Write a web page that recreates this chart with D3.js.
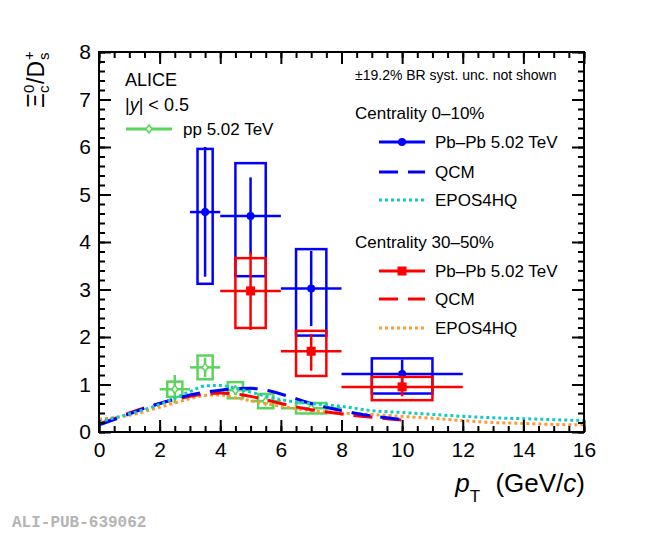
<!DOCTYPE html>
<html>
<head>
<meta charset="utf-8">
<title>Xi_c / Ds ratio</title>
<script src="https://cdn.jsdelivr.net/npm/d3@7"></script>
<style>
  body { margin: 0; background: #fff; }
</style>
</head>
<body>
<script>

// Pb-Pb 0-10%
var cent010X = [3.5, 5, 7, 10];
var cent010Lo = [3, 4, 6, 8];
var cent010Hi = [4, 6, 8, 12];
var cent010Y = [4.63, 4.55, 3.02, 1.22];
var cent010StatUp = [1.37, 0.81, 0.79, 0.30];
var cent010StatDn = [1.36, 0.81, 0.79, 0.30];
var cent010SystUp = [1.33, 1.11, 0.83, 0.33];
var cent010SystDn = [1.51, 1.27, 0.99, 0.41];
var cent010Box = [0.25, 0.5, 0.5, 1];

// Pb-Pb 30-50%
var cent3050X = [5, 7, 10];
var cent3050Lo = [4, 6, 8];
var cent3050Hi = [6, 8, 12];
var cent3050Y = [2.97, 1.70, 0.95];
var cent3050StatUp = [0.82, 0.36, 0.20];
var cent3050StatDn = [0.82, 0.41, 0.20];
var cent3050SystUp = [0.69, 0.43, 0.21];
var cent3050SystDn = [0.78, 0.52, 0.28];
var cent3050Box = [0.5, 0.5, 1];

// pp 5.02 TeV
var ppX = [2.5, 3.5, 4.5, 5.5, 7];
var ppLo = [2, 3, 4, 5, 6];
var ppHi = [3, 4, 5, 6, 8];
var ppY = [0.9, 1.36, 0.88, 0.65, 0.5];
var ppStat = [0.3, 0.2, 0.1, 0.08, 0.06];
var ppSyst = [0.16, 0.25, 0.17, 0.15, 0.11];
var ppBox = [0.25, 0.25, 0.25, 0.25, 0.5];

// model curves
var qcmX = [0, 0.5, 1, 1.5, 2, 2.5, 3, 3.5, 4, 4.5, 5, 5.5, 6, 6.5, 7, 7.5, 8, 8.5, 9, 9.5, 10];
var qcm010Y = [0.15, 0.26, 0.38, 0.5, 0.6, 0.7, 0.78, 0.84, 0.88, 0.91, 0.92, 0.88, 0.8, 0.7, 0.6, 0.52, 0.45, 0.39, 0.34, 0.3, 0.26];
var qcm3050Y = [0.17, 0.28, 0.4, 0.51, 0.6, 0.68, 0.75, 0.8, 0.82, 0.8, 0.75, 0.68, 0.6, 0.53, 0.47, 0.42, 0.38, 0.34, 0.31, 0.28, 0.25];

var eposX = [0, 1, 2, 3, 3.5, 4, 4.5, 5, 6, 7, 8, 9, 10, 11, 12, 13, 14, 15, 16];
var epos010Y = [0.22, 0.38, 0.58, 0.85, 0.97, 0.98, 0.92, 0.84, 0.68, 0.6, 0.54, 0.45, 0.41, 0.37, 0.33, 0.3, 0.28, 0.26, 0.24];
var epos3050Y = [0.27, 0.35, 0.52, 0.7, 0.77, 0.78, 0.72, 0.66, 0.54, 0.45, 0.4, 0.37, 0.33, 0.29, 0.24, 0.2, 0.18, 0.16, 0.15];

var xTicks = [0, 2, 4, 6, 8, 10, 12, 14, 16];
var yTicks = [0, 1, 2, 3, 4, 5, 6, 7, 8];

drawChart();

function drawChart(){

  var w = 650;
  var h = 533;
  var margin = {top: 52, right: 66, bottom: 101, left: 99};
  var gw = w - margin.left - margin.right;
  var gh = h - margin.top - margin.bottom;
  var font = "Liberation Sans, Arial, sans-serif";

  var blue = "#0000ff", red = "#ff0000", green = "#5ad45a",
      cyan = "#14c8c8", orange = "#ff9933";

  var svg = d3.select("body").append("svg")
              .attr("width", w)
              .attr("height", h)
              .attr("font-family", font);

  var graph = svg.append("g")
                 .attr("transform", `translate(${margin.left}, ${margin.top})`);

  var xScale = d3.scaleLinear().domain([0, 16]).range([0, gw]);
  var yScale = d3.scaleLinear().domain([0, 8]).range([gh, 0]);

  // model curves
  var line = d3.line()
               .x(d => xScale(d[0]))
               .y(d => yScale(d[1]))
               .curve(d3.curveMonotoneX);

  function curve(xs, ys, color, dash){
    graph.append("path")
         .attr("d", line(xs.map((x, i) => [x, ys[i]])))
         .attr("fill", "none")
         .attr("stroke", color)
         .attr("stroke-width", 3)
         .attr("stroke-dasharray", dash);
  }

  // data points with stat bars and syst boxes
  function points(xs, lo, hi, ys, statUp, statDn, systUp, systDn, box, color, marker){
    var g = graph.append("g");
    xs.forEach((x, i) => {
      g.append("rect")
       .attr("x", xScale(x - box[i]))
       .attr("y", yScale(ys[i] + systUp[i]))
       .attr("width", xScale(x + box[i]) - xScale(x - box[i]))
       .attr("height", yScale(ys[i] - systDn[i]) - yScale(ys[i] + systUp[i]))
       .attr("fill", "none")
       .attr("stroke", color)
       .attr("stroke-width", 2.5);
      g.append("line")
       .attr("x1", xScale(lo[i])).attr("x2", xScale(hi[i]))
       .attr("y1", yScale(ys[i])).attr("y2", yScale(ys[i]))
       .attr("stroke", color).attr("stroke-width", 2.5);
      g.append("line")
       .attr("x1", xScale(x)).attr("x2", xScale(x))
       .attr("y1", yScale(ys[i] + statUp[i])).attr("y2", yScale(ys[i] - statDn[i]))
       .attr("stroke", color).attr("stroke-width", 2.5);
      drawMarker(g, marker, xScale(x), yScale(ys[i]), color);
    });
  }

  function drawMarker(g, marker, cx, cy, color){
    if (marker == "circle"){
      g.append("circle").attr("cx", cx).attr("cy", cy).attr("r", 4).attr("fill", color);
    } else if (marker == "square"){
      g.append("rect").attr("x", cx - 4.5).attr("y", cy - 4.5)
       .attr("width", 9).attr("height", 9).attr("fill", color);
    } else {
      g.append("path")
       .attr("d", `M${cx},${cy - 4}L${cx + 3},${cy}L${cx},${cy + 4}L${cx - 3},${cy}Z`)
       .attr("fill", "#fff").attr("stroke", color).attr("stroke-width", 1.5);
    }
  }

  points(ppX, ppLo, ppHi, ppY, ppStat, ppStat, ppSyst, ppSyst, ppBox, green, "diamond");

  curve(eposX, epos3050Y, orange, "3,3");
  curve(qcmX, qcm3050Y, red, "19,10");
  curve(qcmX, qcm010Y, blue, "19,10");
  curve(eposX, epos010Y, cyan, "3,3");

  points(cent010X, cent010Lo, cent010Hi, cent010Y, cent010StatUp, cent010StatDn,
         cent010SystUp, cent010SystDn, cent010Box, blue, "circle");
  points(cent3050X, cent3050Lo, cent3050Hi, cent3050Y, cent3050StatUp, cent3050StatDn,
         cent3050SystUp, cent3050SystDn, cent3050Box, red, "square");

  // frame and axes (ROOT style: ticks inside, mirrored)
  graph.append("rect")
       .attr("width", gw).attr("height", gh)
       .attr("fill", "none").attr("stroke", "#000").attr("stroke-width", 2);

  var xMinor = d3.range(0, 16.01, 0.5);
  var yMinor = d3.range(0, 8.01, 0.2);

  function styleAxis(sel){
    sel.select(".domain").remove();
    sel.selectAll("line").attr("stroke", "#000").attr("stroke-width", 2);
    sel.selectAll("text").attr("fill", "#000").attr("font-size", 21)
       .attr("font-family", font);
  }

  var xAxis = graph.append("g").attr("transform", `translate(0, ${gh})`)
    .call(d3.axisBottom(xScale).tickValues(xTicks).tickSize(-12).tickFormat(d3.format("d")));
  xAxis.call(styleAxis);
  xAxis.selectAll("text").attr("dy", "0.71em").attr("y", 10);

  graph.append("g").attr("transform", `translate(0, ${gh})`)
    .call(d3.axisBottom(xScale).tickValues(xMinor).tickSize(-6).tickFormat(""))
    .call(styleAxis);
  graph.append("g")
    .call(d3.axisTop(xScale).tickValues(xTicks).tickSize(-12).tickFormat(""))
    .call(styleAxis);
  graph.append("g")
    .call(d3.axisTop(xScale).tickValues(xMinor).tickSize(-6).tickFormat(""))
    .call(styleAxis);

  var yAxis = graph.append("g")
    .call(d3.axisLeft(yScale).tickValues(yTicks).tickSize(-12).tickFormat(d3.format("d")));
  yAxis.call(styleAxis);
  yAxis.selectAll("text").attr("x", -8);

  graph.append("g")
    .call(d3.axisLeft(yScale).tickValues(yMinor).tickSize(-6).tickFormat(""))
    .call(styleAxis);
  graph.append("g").attr("transform", `translate(${gw}, 0)`)
    .call(d3.axisRight(yScale).tickValues(yTicks).tickSize(-12).tickFormat(""))
    .call(styleAxis);
  graph.append("g").attr("transform", `translate(${gw}, 0)`)
    .call(d3.axisRight(yScale).tickValues(yMinor).tickSize(-6).tickFormat(""))
    .call(styleAxis);

  // x axis title
  var xt = svg.append("text")
              .attr("x", 585).attr("y", 492)
              .attr("text-anchor", "end")
              .attr("font-size", 26);
  xt.append("tspan").attr("font-style", "italic").text("p");
  xt.append("tspan").attr("font-size", 17).attr("dy", 10).text("T");
  xt.append("tspan").attr("dy", -10).attr("dx", 8).text(" (GeV/");
  xt.append("tspan").attr("font-style", "italic").text("c");
  xt.append("tspan").text(")");

  // y axis title
  var yt = svg.append("g").attr("transform", "translate(44, 79) rotate(-90)");
  yt.append("text").attr("x", -29).attr("font-size", 23).text("Ξ");
  yt.append("text").attr("x", -14).attr("y", -10).attr("font-size", 15).text("0");
  yt.append("text").attr("x", -14).attr("y", 5).attr("font-size", 15).text("c");
  yt.append("text").attr("x", -5).attr("font-size", 23).text("/D");
  yt.append("text").attr("x", 19).attr("y", -10).attr("font-size", 15).text("+");
  yt.append("text").attr("x", 19).attr("y", 5).attr("font-size", 15).text("s");

  // left legend
  svg.append("text").attr("x", 125).attr("y", 86).attr("font-size", 18).text("ALICE");
  var yl = svg.append("text").attr("x", 125).attr("y", 111).attr("font-size", 18);
  yl.append("tspan").text("|");
  yl.append("tspan").attr("font-style", "italic").text("y");
  yl.append("tspan").text("| < 0.5");

  legendEntry(svg, 126, 172, 129, green, null, "diamond", "pp 5.02 TeV", 183);

  // right legend
  svg.append("text").attr("x", 355).attr("y", 80).attr("font-size", 14)
     .text("±19.2% BR syst. unc. not shown");
  svg.append("text").attr("x", 355).attr("y", 119).attr("font-size", 17).text("Centrality 0–10%");
  legendEntry(svg, 379, 425, 142, blue, null, "circle", "Pb–Pb 5.02 TeV", 435);
  legendEntry(svg, 379, 425, 172, blue, "19,10", null, "QCM", 435);
  legendEntry(svg, 379, 425, 200, cyan, "3,3", null, "EPOS4HQ", 435);
  svg.append("text").attr("x", 355).attr("y", 248).attr("font-size", 17).text("Centrality 30–50%");
  legendEntry(svg, 379, 425, 271, red, null, "square", "Pb–Pb 5.02 TeV", 435);
  legendEntry(svg, 379, 425, 299, red, "19,10", null, "QCM", 435);
  legendEntry(svg, 379, 425, 328, orange, "3,3", null, "EPOS4HQ", 435);

  function legendEntry(s, x1, x2, y, color, dash, marker, label, tx){
    s.append("line")
     .attr("x1", x1).attr("x2", x2).attr("y1", y).attr("y2", y)
     .attr("stroke", color).attr("stroke-width", 3)
     .attr("stroke-dasharray", dash);
    if (marker) drawMarker(s, marker, (x1 + x2) / 2, y, color);
    s.append("text").attr("x", tx).attr("y", y + 6).attr("font-size", 17).text(label);
  }

  // footer label
  svg.append("text")
     .attr("x", 12).attr("y", 527)
     .style("font-family", "'Liberation Mono', 'Courier New', monospace")
     .attr("font-weight", "bold")
     .attr("font-size", 16)
     .attr("fill", "#b4b4b4")
     .text("ALI-PUB-639062");
}

</script>
</body>
</html>
